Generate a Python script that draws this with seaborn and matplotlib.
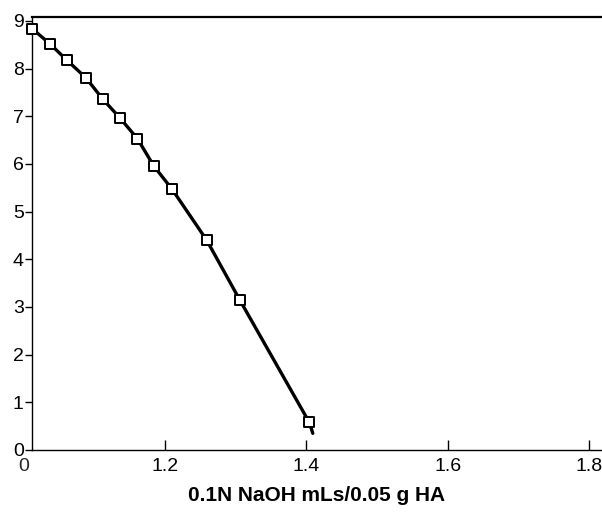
import matplotlib
matplotlib.use("Agg")
import matplotlib.pyplot as plt
import seaborn as sns
import pandas as pd

# Data
naoh_ml = [1.012, 1.038, 1.061, 1.088, 1.112, 1.136, 1.161, 1.184, 1.210, 1.259, 1.306, 1.404]
ph = [8.84, 8.51, 8.18, 7.81, 7.36, 6.97, 6.53, 5.96, 5.47, 4.40, 3.14, 0.58]
curve_end_x = [1.409]
curve_end_y = [0.35]

x_ticks = [1.2, 1.4, 1.6, 1.8]
x_tick_labels = ["1.2", "1.4", "1.6", "1.8"]
y_ticks = [0, 1, 2, 3, 4, 5, 6, 7, 8, 9]

sns.set_theme(style="white")
plt.rcParams["font.family"] = ["Liberation Sans", "DejaVu Sans"]

df_pts = pd.DataFrame({"x": naoh_ml, "y": ph})
df_line = pd.DataFrame({"x": naoh_ml + curve_end_x, "y": ph + curve_end_y})

fig = plt.figure(figsize=(6.02, 5.12), dpi=100)
ax = fig.add_axes([0.0532, 0.1211, 0.9468, 0.8463])

sns.lineplot(data=df_line, x="x", y="y", ax=ax, color="black", lw=2.4,
             sort=False, estimator=None)
sns.scatterplot(data=df_pts, x="x", y="y", ax=ax, marker="s", s=55,
                facecolor="white", edgecolor="black", linewidth=1.4, zorder=3,
                clip_on=False)

ax.set_xlim(1.0119, 1.818)
ax.set_ylim(0, 9.09)

ax.set_xticks(x_ticks)
ax.set_xticklabels(x_tick_labels)
ax.set_yticks(y_ticks)

ax.tick_params(axis="x", direction="in", length=7, width=1, pad=6,
               labelsize=14, colors="black", bottom=True)
ax.tick_params(axis="y", direction="out", length=5, width=1, pad=1,
               labelsize=14, colors="black", left=True)

ax.text(1.0, -0.019, "0", transform=ax.get_xaxis_transform(), ha="center",
        va="top", fontsize=14, clip_on=False)

for side in ["left", "bottom"]:
    ax.spines[side].set_visible(True)
    ax.spines[side].set_color("black")
    ax.spines[side].set_linewidth(1.0)
ax.spines["top"].set_visible(True)
ax.spines["top"].set_color("black")
ax.spines["top"].set_linewidth(1.6)
ax.spines["right"].set_visible(False)

ax.set_xlabel("0.1N NaOH mLs/0.05 g HA", fontsize=15, fontweight="bold",
              labelpad=8, color="black")
ax.set_ylabel("")
ax.grid(False)

fig.savefig("out.png", dpi=100, facecolor="white")
